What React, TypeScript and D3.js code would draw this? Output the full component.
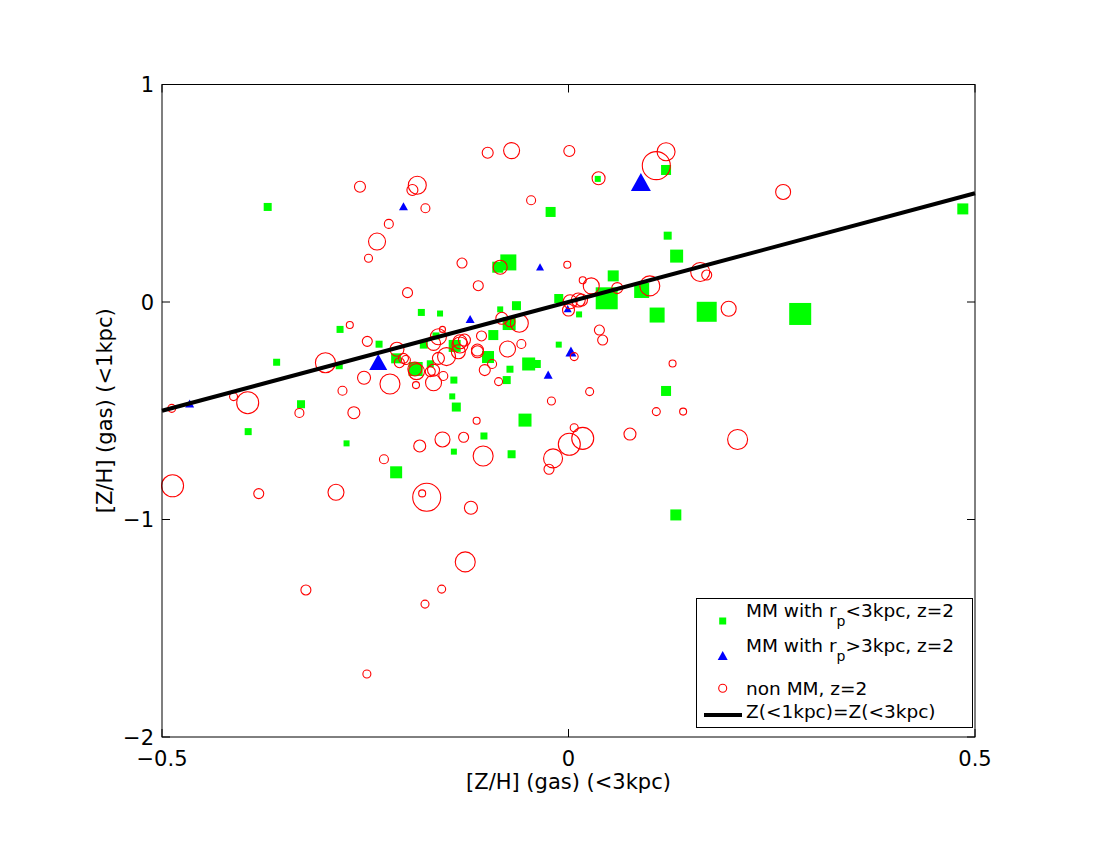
import React, { useEffect, useRef } from 'react';
import * as d3 from 'd3';

// [x = [Z/H] gas <3kpc, y = [Z/H] gas <1kpc, marker size]
const mmClose: [number, number, number][] = [
  [-0.370, 0.437, 8], [0.485, 0.428, 11], [0.120, 0.607, 10], [0.036, 0.566, 6],
  [-0.022, 0.414, 10], [0.122, 0.305, 8], [0.133, 0.211, 13], [-0.074, 0.182, 16],
  [-0.087, 0.160, 11], [0.055, 0.120, 11], [0.090, 0.053, 15], [0.047, 0.017, 22],
  [-0.012, 0.016, 9], [0.109, -0.060, 15], [0.170, -0.045, 20], [0.285, -0.055, 22],
  [-0.064, -0.017, 9], [-0.084, -0.034, 6], [-0.158, -0.053, 6], [0.013, -0.057, 6],
  [-0.181, -0.048, 7], [-0.073, -0.099, 13], [-0.0925, -0.152, 10], [-0.140, -0.202, 12],
  [-0.012, -0.196, 6], [-0.099, -0.253, 12], [-0.049, -0.285, 13], [-0.039, -0.285, 8],
  [-0.072, -0.309, 7], [-0.076, -0.359, 8], [-0.141, -0.359, 7], [-0.143, -0.434, 6],
  [-0.138, -0.483, 9], [-0.0535, -0.543, 13], [-0.104, -0.616, 7], [-0.141, -0.688, 6],
  [-0.070, -0.700, 8], [0.120, -0.409, 10], [0.132, -0.979, 11], [-0.281, -0.126, 7],
  [-0.233, -0.194, 7], [-0.178, -0.196, 8], [-0.163, -0.156, 7], [-0.212, -0.259, 10],
  [-0.188, -0.308, 14], [-0.170, -0.284, 7], [-0.282, -0.293, 7], [-0.359, -0.277, 7],
  [-0.329, -0.470, 8], [-0.394, -0.596, 7], [-0.273, -0.650, 6], [-0.212, -0.783, 12],
];

const mmWide: [number, number, number][] = [
  [-0.466, -0.469, 9], [-0.234, -0.280, 18], [-0.203, 0.438, 9], [-0.121, -0.080, 9],
  [-0.035, 0.160, 8], [-0.001, -0.032, 8], [0.003, -0.230, 11], [-0.025, -0.336, 9],
  [0.089, 0.547, 20],
];

const nonMM: [number, number, number][] = [
  [-0.2565, 0.530, 11], [-0.186, 0.537, 18], [-0.192, 0.515, 11], [-0.176, 0.431, 9],
  [-0.221, 0.359, 9], [-0.2355, 0.278, 17], [-0.246, 0.201, 8], [-0.198, 0.043, 10],
  [-0.0994, 0.686, 11], [-0.070, 0.696, 16], [0.001, 0.694, 11], [0.120, 0.691, 18],
  [0.108, 0.627, 28], [0.037, 0.569, 13], [-0.046, 0.468, 9], [-0.131, 0.179, 10],
  [-0.111, 0.075, 10], [-0.0015, 0.171, 7], [-0.084, 0.160, 14], [0.0175, 0.100, 7],
  [0.028, 0.074, 16], [0.060, 0.064, 11], [0.100, 0.074, 20], [0.162, 0.138, 19],
  [0.170, 0.124, 10], [0.264, 0.506, 15], [0.197, -0.031, 15], [0.208, -0.632, 20],
  [-0.269, -0.106, 7], [-0.2475, -0.181, 10], [-0.299, -0.279, 20], [-0.2515, -0.348, 13],
  [-0.2196, -0.377, 20], [-0.278, -0.408, 9], [-0.412, -0.435, 8], [-0.3946, -0.463, 22],
  [-0.488, -0.489, 8], [-0.331, -0.510, 9], [-0.264, -0.509, 12], [-0.183, -0.662, 12],
  [-0.227, -0.723, 9], [-0.487, -0.845, 22], [-0.381, -0.881, 10], [-0.286, -0.875, 16],
  [-0.1744, -0.898, 28], [-0.180, -0.880, 7], [-0.155, -0.632, 15], [-0.155, -0.126, 6],
  [-0.160, -0.160, 16], [-0.211, -0.217, 14], [-0.203, -0.259, 10], [-0.208, -0.279, 10],
  [-0.200, -0.267, 9], [-0.187, -0.320, 16], [-0.189, -0.308, 14], [-0.170, -0.320, 10],
  [-0.166, -0.371, 16], [-0.154, -0.340, 9], [-0.150, -0.251, 18], [-0.160, -0.259, 12],
  [-0.1876, -0.382, 7], [-0.166, -0.190, 14], [-0.166, -0.313, 12], [-0.1335, -0.183, 14],
  [-0.128, -0.175, 12], [-0.1335, -0.198, 16], [-0.1355, -0.229, 14], [-0.112, -0.221, 12],
  [-0.112, -0.229, 12], [-0.107, -0.156, 10], [-0.082, -0.075, 12], [-0.0605, -0.098, 18],
  [-0.072, -0.091, 10], [-0.075, -0.216, 16], [-0.058, -0.193, 9], [-0.094, -0.285, 9],
  [-0.103, -0.313, 11], [-0.086, -0.366, 8], [0.007, -0.251, 8], [-0.021, -0.455, 8],
  [0.038, -0.129, 10], [0.042, -0.175, 10], [0.128, -0.283, 7], [0.026, -0.412, 8],
  [0.108, -0.504, 8], [0.141, -0.504, 7], [-0.113, -0.546, 7], [-0.129, -0.622, 10],
  [-0.105, -0.708, 20], [0.001, -0.654, 22], [0.0175, -0.627, 22], [0.007, -0.578, 8],
  [0.0756, -0.607, 12], [-0.019, -0.719, 19], [-0.024, -0.769, 10], [-0.120, -0.946, 13],
  [-0.323, -1.324, 10], [-0.127, -1.195, 20], [-0.156, -1.320, 8], [-0.1765, -1.389, 8],
  [-0.248, -1.710, 8], [0.002, 0.001, 14], [0.012, 0.009, 14], [0.016, 0.009, 12],
  [0.000, -0.037, 12],
];

const oneToOne: [number, number][] = [[-0.5, -0.5], [0.5, 0.5]];

const xTicks = [-0.5, 0, 0.5];
const yTicks = [1, 0, -1, -2];

const legendLabels = [
  ['MM with r', 'p', '<3kpc, z=2'],
  ['MM with r', 'p', '>3kpc, z=2'],
  ['non MM, z=2', '', ''],
  ['Z(<1kpc)=Z(<3kpc)', '', ''],
];

const FONT = '"DejaVu Sans", "Liberation Sans", Arial, sans-serif';

function fmt(v: number) {
  return (v < 0 ? '\u2212' : '') + String(Math.abs(v));
}

export default function App() {
  const svgRef = useRef<SVGSVGElement>(null);

  useEffect(() => {
    if (!svgRef.current) return;
    const svg = d3.select(svgRef.current);
    svg.selectAll('*').remove();

    const left = 162, right = 975, top = 84.5, bottom = 737;
    const x = d3.scaleLinear().domain([-0.5, 0.5]).range([left, right]);
    const y = d3.scaleLinear().domain([-2, 1]).range([bottom, top]);
    const size = d3.scaleLinear().domain([0, 20]).range([0, 20]);

    svg.append('rect').attr('width', 1100).attr('height', 850).attr('fill', 'white');

    const plot = svg.append('g');
    plot.append('rect')
      .attr('x', left).attr('y', top)
      .attr('width', right - left).attr('height', bottom - top)
      .attr('fill', 'white');

    // squares
    plot.selectAll('.sq')
      .data(mmClose)
      .enter()
      .append('rect')
      .attr('class', 'sq')
      .attr('x', d => x(d[0]) - size(d[2]) / 2)
      .attr('y', d => y(d[1]) - size(d[2]) / 2)
      .attr('width', d => size(d[2]))
      .attr('height', d => size(d[2]))
      .attr('fill', '#00ff00');

    // triangles
    const tri = (cx: number, cy: number, s: number) =>
      `M${cx},${cy - 0.5 * s}L${cx + 0.5 * s},${cy + 0.4 * s}L${cx - 0.5 * s},${cy + 0.4 * s}Z`;

    plot.selectAll('.tri')
      .data(mmWide)
      .enter()
      .append('path')
      .attr('class', 'tri')
      .attr('d', d => tri(x(d[0]), y(d[1]), size(d[2])))
      .attr('fill', '#0000ff');

    // open circles
    plot.selectAll('.circ')
      .data(nonMM)
      .enter()
      .append('circle')
      .attr('class', 'circ')
      .attr('cx', d => x(d[0]))
      .attr('cy', d => y(d[1]))
      .attr('r', d => size(d[2]) / 2)
      .attr('fill', 'none')
      .attr('stroke', '#ff0000')
      .attr('stroke-width', 1.1);

    const line = d3.line<[number, number]>().x(d => x(d[0])).y(d => y(d[1]));
    plot.append('path')
      .datum(oneToOne)
      .attr('d', line)
      .attr('fill', 'none')
      .attr('stroke', '#000')
      .attr('stroke-width', 4);

    // box + ticks
    const axis = svg.append('g').attr('stroke', '#000').attr('stroke-width', 1);
    axis.append('rect')
      .attr('x', left).attr('y', top)
      .attr('width', right - left).attr('height', bottom - top)
      .attr('fill', 'none');

    const tl = 8;
    xTicks.forEach(t => {
      axis.append('line').attr('x1', x(t)).attr('x2', x(t)).attr('y1', bottom).attr('y2', bottom - tl);
      axis.append('line').attr('x1', x(t)).attr('x2', x(t)).attr('y1', top).attr('y2', top + tl);
    });
    yTicks.forEach(t => {
      axis.append('line').attr('x1', left).attr('x2', left + tl).attr('y1', y(t)).attr('y2', y(t));
      axis.append('line').attr('x1', right).attr('x2', right - tl).attr('y1', y(t)).attr('y2', y(t));
    });

    const labels = svg.append('g')
      .style('font-family', FONT)
      .style('fill', '#000');

    xTicks.forEach(t => {
      labels.append('text')
        .attr('x', x(t))
        .attr('y', bottom + 29)
        .attr('text-anchor', 'middle')
        .style('font-size', '21px')
        .text(fmt(t));
    });
    yTicks.forEach(t => {
      labels.append('text')
        .attr('x', left - 8)
        .attr('y', y(t) + 7.5)
        .attr('text-anchor', 'end')
        .style('font-size', '21px')
        .text(fmt(t));
    });

    labels.append('text')
      .attr('x', (left + right) / 2)
      .attr('y', bottom + 52)
      .attr('text-anchor', 'middle')
      .style('font-size', '21px')
      .text('[Z/H] (gas) (<3kpc)');

    labels.append('text')
      .attr('transform', `translate(112, ${(top + bottom) / 2}) rotate(-90)`)
      .attr('text-anchor', 'middle')
      .style('font-size', '21px')
      .text('[Z/H] (gas) (<1kpc)');

    // legend
    const legend = svg.append('g').style('font-family', FONT);
    legend.append('rect')
      .attr('x', 696.5).attr('y', 598.5)
      .attr('width', 276).attr('height', 129)
      .attr('fill', 'white')
      .attr('stroke', '#000')
      .attr('stroke-width', 1);

    const mx = 722.7, tx = 746;
    const rowMarker = [621, 656, 688.3, 715];
    const rowText = [617, 652, 695, 718];

    legend.append('rect')
      .attr('x', mx - size(7) / 2).attr('y', rowMarker[0] - size(7) / 2)
      .attr('width', size(7)).attr('height', size(7))
      .attr('fill', '#00ff00');
    legend.append('path')
      .attr('d', tri(mx, rowMarker[1], size(10)))
      .attr('fill', '#0000ff');
    legend.append('circle')
      .attr('cx', mx).attr('cy', rowMarker[2]).attr('r', size(8) / 2)
      .attr('fill', 'none').attr('stroke', '#ff0000').attr('stroke-width', 1.1);
    legend.append('line')
      .attr('x1', 704).attr('x2', 742).attr('y1', rowMarker[3]).attr('y2', rowMarker[3])
      .attr('stroke', '#000').attr('stroke-width', 4);

    legendLabels.forEach((lab, i) => {
      const t = legend.append('text')
        .attr('x', tx)
        .attr('y', rowText[i])
        .style('font-size', '18.5px');
      t.append('tspan').text(lab[0]);
      if (lab[1]) {
        t.append('tspan').attr('dy', 9).style('font-size', '14px').text(lab[1]);
        t.append('tspan').attr('dy', -9).text(lab[2]);
      }
    });
  }, []);

  return (
    <svg
      ref={svgRef}
      width={1100}
      height={850}
      style={{ position: 'absolute', left: 0, top: 0, display: 'block' }}
    />
  );
}
